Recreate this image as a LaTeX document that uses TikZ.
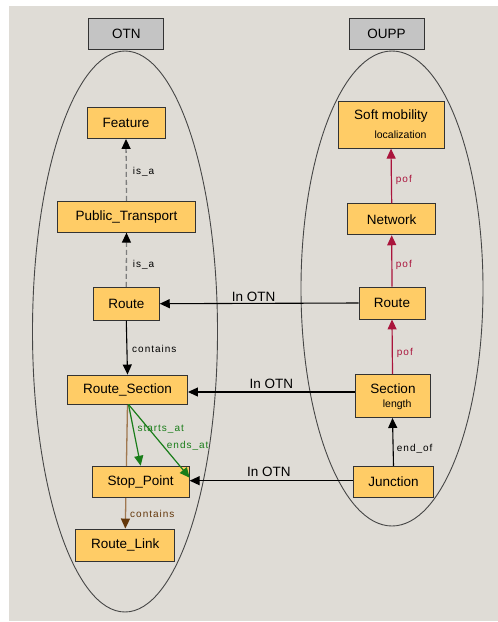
\documentclass[tikz,border=0pt]{standalone}
\usepackage{fontspec}
\setmainfont{Liberation Sans}
\newfontfamily\edgefont[LetterSpace=10]{Liberation Sans}
\usetikzlibrary{arrows.meta}
\pgfdeclarelayer{bg}
\pgfsetlayers{bg,main}
\definecolor{panel}{RGB}{223,220,214}
\definecolor{classfill}{RGB}{255,204,102}
\definecolor{classline}{RGB}{51,51,51}
\definecolor{ontofill}{RGB}{196,196,196}
\definecolor{pofred}{RGB}{170,20,60}
\definecolor{linkgreen}{RGB}{25,125,25}
\definecolor{tanline}{RGB}{160,120,80}
\definecolor{darkbrown}{RGB}{100,55,10}
\definecolor{isagray}{RGB}{125,125,125}
\definecolor{ringline}{RGB}{70,70,70}

\begin{document}
\begin{tikzpicture}[x=1pt,y=-1pt,
  cls/.style={draw=classline, fill=classfill, line width=0.9pt, inner sep=0pt,
              font=\fontsize{13.5}{15}\selectfont},
  onto/.style={draw=classline, fill=ontofill, line width=0.9pt, inner sep=0pt,
               minimum width=75pt, minimum height=31pt, font=\fontsize{13.5}{15}\selectfont},
  txt/.style={inner sep=0pt, font=\fontsize{13.5}{15}\selectfont},
  subtxt/.style={inner sep=0pt, font=\fontsize{10.5}{12}\selectfont},
  elbl/.style={inner sep=0pt, anchor=west, font=\edgefont\fontsize{10}{12}\selectfont},
  ring/.style={draw=ringline, line width=0.9pt},
  tipblack/.style={-{Triangle[length=10pt,width=9pt,black]}},
  isa/.style={tipblack, draw=isagray, line width=1.3pt, dash pattern=on 5pt off 3pt},
  rel/.style={tipblack, draw=black, line width=1.1pt},
  pof/.style={-{Triangle[length=10pt,width=9pt]}, draw=pofred, line width=1.2pt},
  grn/.style={-{Triangle[length=10pt,width=9pt]}, draw=linkgreen, line width=1.2pt},
  brn/.style={-{Triangle[length=10pt,width=9pt,darkbrown]}, draw=tanline, line width=1.3pt}
]
\useasboundingbox (0,0) rectangle (498,622);

\begin{pgfonlayer}{bg}
  \fill[white] (0,0) rectangle (498,622);
  \fill[panel] (9,6) rectangle (498,621);
  % ontology outlines
  \draw[ring] (125,331.5) ellipse [x radius=92.5pt, y radius=280.5pt];
  \draw[ring] (392,288.5) ellipse [x radius=91pt, y radius=237.5pt];
\end{pgfonlayer}

% ontology headers
\node[onto] (otn)  at (126.3,33.5) {OTN};
\node[onto] (oupp) at (386.5,33.5) {OUPP};

% OTN classes
\node[cls, minimum width=78pt,  minimum height=31pt] (feat) at (126,123)     {Feature};
\node[cls, minimum width=138pt, minimum height=31pt] (pt)   at (126.5,216.7) {Public\_Transport};
\node[cls, minimum width=66pt,  minimum height=33pt] (rtl)  at (126.3,303.7) {Route};
\node[cls, minimum width=120pt, minimum height=29pt] (rs)   at (127.5,389.5) {Route\_Section};
\node[cls, minimum width=97pt,  minimum height=31pt] (sp)   at (140.7,481.7) {Stop\_Point};
\node[cls, minimum width=99pt,  minimum height=32pt] (rl)   at (125.3,545)   {Route\_Link};

% OUPP classes
\node[cls, minimum width=106pt, minimum height=47pt] (soft) at (391,124.7) {};
\node[txt]    (softname) at (391,116)     {Soft mobility};
\node[subtxt] (softsub)  at (400.5,134.3) {localization};
\node[cls, minimum width=88pt, minimum height=31pt] (net)  at (391.7,219.3) {Network};
\node[cls, minimum width=66pt, minimum height=32pt] (rtr)  at (392,303)     {Route};
\node[cls, minimum width=75pt, minimum height=43pt] (sec)  at (392.5,396)   {};
\node[txt]    (secname) at (393,388.7)   {Section};
\node[subtxt] (secsub)  at (397.2,404.3) {length};
\node[cls, minimum width=80pt, minimum height=31pt] (junc) at (393.5,481.7) {Junction};

% Route_Section contains Route_Link (runs behind Stop_Point)
\begin{pgfonlayer}{bg}
  \draw[brn] (rs.south) -- (rl.north);
\end{pgfonlayer}
\node[elbl, text=darkbrown] (lcont2) at (130,514) {contains};

% OTN relations
\draw[isa] (pt.north) -- (feat.south);
\node[elbl] (lisa1) at (132.7,172.3) {is\_a};
\draw[isa] (rtl.north) -- (pt.south);
\node[elbl] (lisa2) at (132.7,264.5) {is\_a};
\draw[rel] (rtl.south) -- (rs.north);
\node[elbl] (lcont1) at (132,349) {contains};
\draw[grn] ([xshift=1pt]rs.south) -- (sp.north);
\node[elbl, text=linkgreen] (lstart) at (137.3,429.3) {starts\_at};
\draw[grn] ([xshift=1pt]rs.south) -- ([yshift=4pt]sp.east);
\node[elbl, text=linkgreen] (lend) at (166.7,445.7) {ends\_at};

% OUPP relations
\draw[pof] (net.north) -- (soft.south);
\node[elbl, text=pofred] (lpof1) at (395.7,180) {pof};
\draw[pof] (rtr.north) -- (net.south);
\node[elbl, text=pofred] (lpof2) at (395.7,265) {pof};
\draw[pof] (sec.north) -- (rtr.south);
\node[elbl, text=pofred] (lpof3) at (396.7,353.3) {pof};
\draw[rel] (junc.north) -- (sec.south);
\node[elbl] (lendof) at (396.7,449.3) {end\_of};

% mappings into OTN
\draw[rel] (rtr.west) -- (rtl.east);
\node[txt] (lin1) at (253.7,297.2) {In OTN};
\draw[rel] ([yshift=4pt]sec.west) -- ([yshift=-2.5pt]rs.east);
\node[txt] (lin2) at (271.3,383.7) {In OTN};
\draw[rel] ([yshift=1pt]junc.west) -- ([yshift=1pt]sp.east);
\node[txt] (lin3) at (268.8,471.7) {In OTN};
\end{tikzpicture}
\end{document}
